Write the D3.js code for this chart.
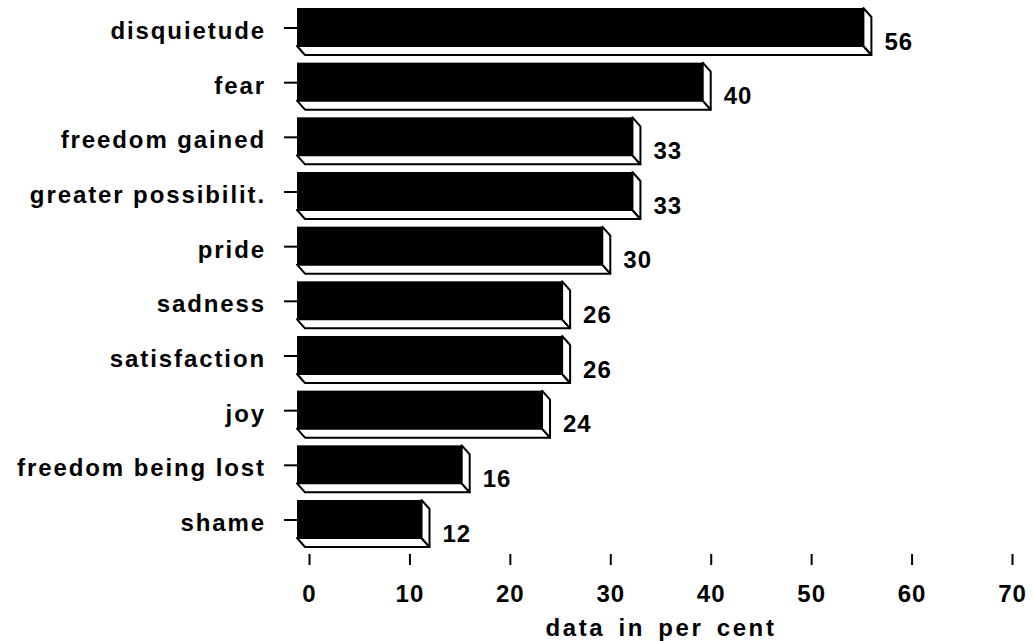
<!DOCTYPE html>
<html>
<head>
<meta charset="utf-8">
<script src="https://cdn.jsdelivr.net/npm/d3@7"></script>
<style>
  body { margin: 0; background: #fff; }
  text { font-family: "Liberation Sans", Arial, sans-serif; font-weight: bold; fill: #000; }
</style>
</head>
<body>
<div id="chart"></div>
<script>
// chart data
var categories = ["disquietude", "fear", "freedom gained", "greater possibilit.", "pride",
                  "sadness", "satisfaction", "joy", "freedom being lost", "shame"];
var values = [56, 40, 33, 33, 30, 26, 26, 24, 16, 12];
var xTicks = [0, 10, 20, 30, 40, 50, 60, 70];
var xTitle = "data in per cent";

var width = 1033, height = 641;

var svg = d3.select("#chart")
  .append("svg")
  .attr("width", width)
  .attr("height", height);

// scales
var x = d3.scaleLinear()
  .domain([0, 70])
  .range([309, 1012]);

var y = d3.scaleBand()
  .domain(categories)
  .range([8, 547])
  .paddingInner(0.14)
  .paddingOuter(0);

// 3d look: front face + depth offset
var dx = 8, dy = 9;
var faceH = y.bandwidth() - dy;
var leftPad = 12;

var data = categories.map((c, i) => ({cat: c, val: values[i]}));

var bars = svg.selectAll("g.bar")
  .data(data)
  .enter()
  .append("g")
  .attr("class", "bar")
  .attr("transform", d => "translate(0," + y(d.cat) + ")");

// bottom face
bars.append("path")
  .attr("d", d => {
    var x0 = x(0) - leftPad, x1 = x(d.val) - dx;
    return "M" + x0 + "," + faceH + "L" + x1 + "," + faceH +
      "L" + (x1 + dx) + "," + (faceH + dy) + "L" + (x0 + dx) + "," + (faceH + dy) + "Z";
  })
  .style("fill", "#fff")
  .style("stroke", "#000")
  .style("stroke-width", 2)
  .style("stroke-linejoin", "round");

// side face
bars.append("path")
  .attr("d", d => {
    var x1 = x(d.val) - dx;
    return "M" + x1 + ",0L" + (x1 + dx) + "," + dy + "L" + (x1 + dx) + "," + (faceH + dy) +
      "L" + x1 + "," + faceH + "Z";
  })
  .style("fill", "#fff")
  .style("stroke", "#000")
  .style("stroke-width", 2)
  .style("stroke-linejoin", "round");

// front face
bars.append("rect")
  .attr("x", x(0) - leftPad)
  .attr("y", 0)
  .attr("width", d => x(d.val) - dx - (x(0) - leftPad))
  .attr("height", faceH)
  .style("fill", "#000");

// value labels
bars.append("text")
  .attr("x", d => x(d.val) + 13)
  .attr("y", 33)
  .attr("dy", "0.36em")
  .style("font-size", "24px")
  .style("letter-spacing", "1px")
  .text(d => d.val);

// y axis: ticks + labels
var yAxis = svg.append("g");
yAxis.selectAll("line")
  .data(categories)
  .enter()
  .append("line")
  .attr("x1", 284)
  .attr("x2", x(0) - leftPad)
  .attr("y1", d => y(d) + 20)
  .attr("y2", d => y(d) + 20)
  .style("stroke", "#000")
  .style("stroke-width", 2);

yAxis.selectAll("text")
  .data(categories)
  .enter()
  .append("text")
  .attr("x", 266)
  .attr("y", d => y(d) + 22.5)
  .attr("dy", "0.36em")
  .attr("text-anchor", "end")
  .style("font-size", "24px")
  .style("letter-spacing", "1.9px")
  .text(d => d);

// x axis
var xAxis = svg.append("g")
  .attr("transform", "translate(0,554)")
  .call(d3.axisBottom(x).tickValues(xTicks).tickSize(11).tickPadding(20));

xAxis.select(".domain").remove();
xAxis.selectAll(".tick line").style("stroke", "#000").style("stroke-width", 2);
xAxis.selectAll(".tick text")
  .attr("font-family", null)
  .style("font-size", "24px")
  .style("letter-spacing", "1px");

svg.append("text")
  .attr("x", 661)
  .attr("y", 627)
  .attr("dy", "0.36em")
  .attr("text-anchor", "middle")
  .style("font-size", "24px")
  .style("letter-spacing", "2.6px")
  .style("word-spacing", "4px")
  .text(xTitle);
</script>
</body>
</html>
